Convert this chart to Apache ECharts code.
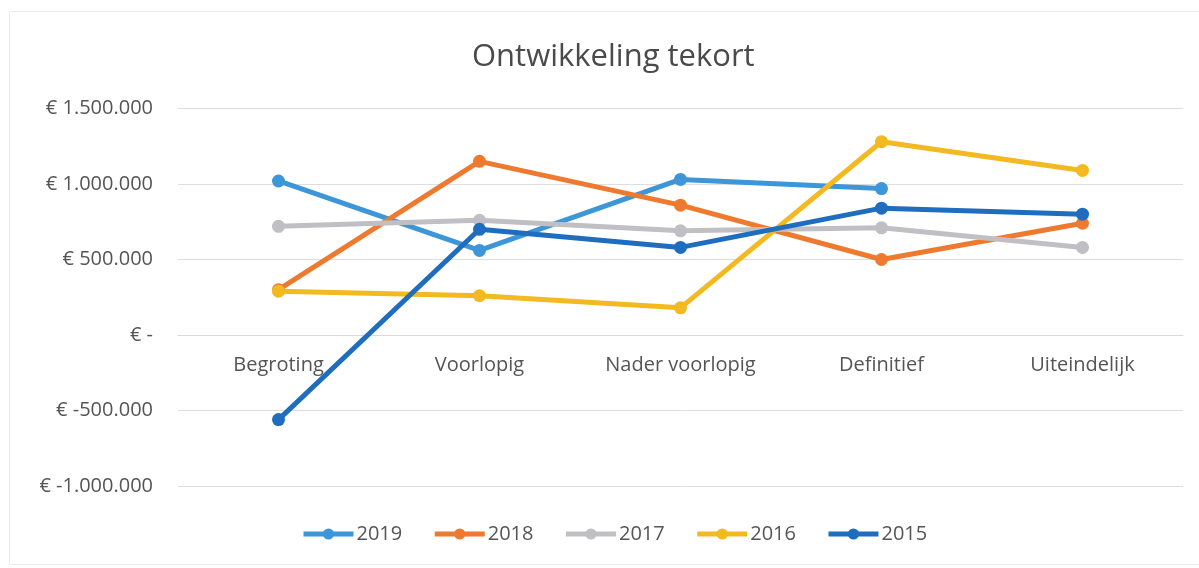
<!DOCTYPE html>
<html>
<head>
<meta charset="utf-8">
<script src="https://cdn.jsdelivr.net/npm/echarts@6/dist/echarts.min.js"></script>
<style>
html,body{margin:0;padding:0;background:#fff;}
#chart{width:1199px;height:568px;}
</style>
</head>
<body>
<div id="chart"></div>
<script>
const categories = ['Begroting', 'Voorlopig', 'Nader voorlopig', 'Definitief', 'Uiteindelijk'];
const seriesNames = ['2019', '2018', '2017', '2016', '2015'];
const v2019 = [1020000, 560000, 1030000, 970000, null];
const v2018 = [300000, 1150000, 860000, 500000, 740000];
const v2017 = [720000, 760000, 690000, 710000, 580000];
const v2016 = [290000, 260000, 180000, 1280000, 1090000];
const v2015 = [-560000, 700000, 580000, 840000, 800000];
const yMin = -1000000, yMax = 1500000, yStep = 500000;
const colors = ['#3d96d7', '#ee7a30', '#c0c0c4', '#f3b921', '#1f6dbe'];
const values = [v2019, v2018, v2017, v2016, v2015];

function fmt(v) {
  if (v === 0) return '€ -';
  const s = Math.abs(v).toString().replace(/\B(?=(\d{3})+(?!\d))/g, '.');
  return '€ ' + (v < 0 ? '-' : '') + s;
}

const gridTop = 108.5, gridBottom = 82, H = 568;
const plotH = H - gridTop - gridBottom;
const zeroOffset = plotH * (0 - yMin) / (yMax - yMin);

const chart = echarts.init(document.getElementById('chart'));
const font = '"Open Sans", "DejaVu Sans", sans-serif';
chart.setOption({
  backgroundColor: '#ffffff',
  animation: false,
  textStyle: { fontFamily: font },
  title: {
    text: 'Ontwikkeling tekort',
    left: 467,
    top: 37,
    textStyle: { fontFamily: font, fontSize: 31, fontWeight: 'normal', color: '#4a4a4a' }
  },
  graphic: [{
    type: 'rect',
    shape: { x: 9.5, y: 11.5, width: 1200, height: 553 },
    style: { fill: 'none', stroke: '#ebebeb', lineWidth: 1 },
    silent: true
  }],
  legend: {
    bottom: 19,
    left: 296,
    itemWidth: 50,
    itemHeight: 14,
    itemGap: 30,
    lineStyle: { width: 5 },
    textStyle: { fontFamily: font, fontSize: 20, color: '#555', padding: [0, 0, 0, -2] },
    data: seriesNames
  },
  grid: { left: 178, right: 16, top: gridTop, bottom: gridBottom, containLabel: false },
  xAxis: {
    type: 'category',
    data: categories,
    boundaryGap: true,
    offset: -zeroOffset,
    axisLine: { onZero: false, lineStyle: { color: '#d9d9d9', width: 1 } },
    axisTick: { show: false },
    axisLabel: { margin: 20, fontFamily: font, fontSize: 20, color: '#555' }
  },
  yAxis: {
    type: 'value',
    min: yMin,
    max: yMax,
    interval: yStep,
    axisLine: { show: false },
    axisTick: { show: false },
    splitLine: { lineStyle: { color: '#dedede', width: 1 } },
    axisLabel: { margin: 25, fontFamily: font, fontSize: 20, color: '#555', formatter: fmt }
  },
  series: seriesNames.map((n, i) => ({
    name: n,
    type: 'line',
    data: values[i],
    color: colors[i],
    symbol: 'circle',
    symbolSize: 13,
    lineStyle: { width: 5, color: colors[i] },
    itemStyle: { color: colors[i] },
    connectNulls: false
  }))
});
</script>
</body>
</html>
